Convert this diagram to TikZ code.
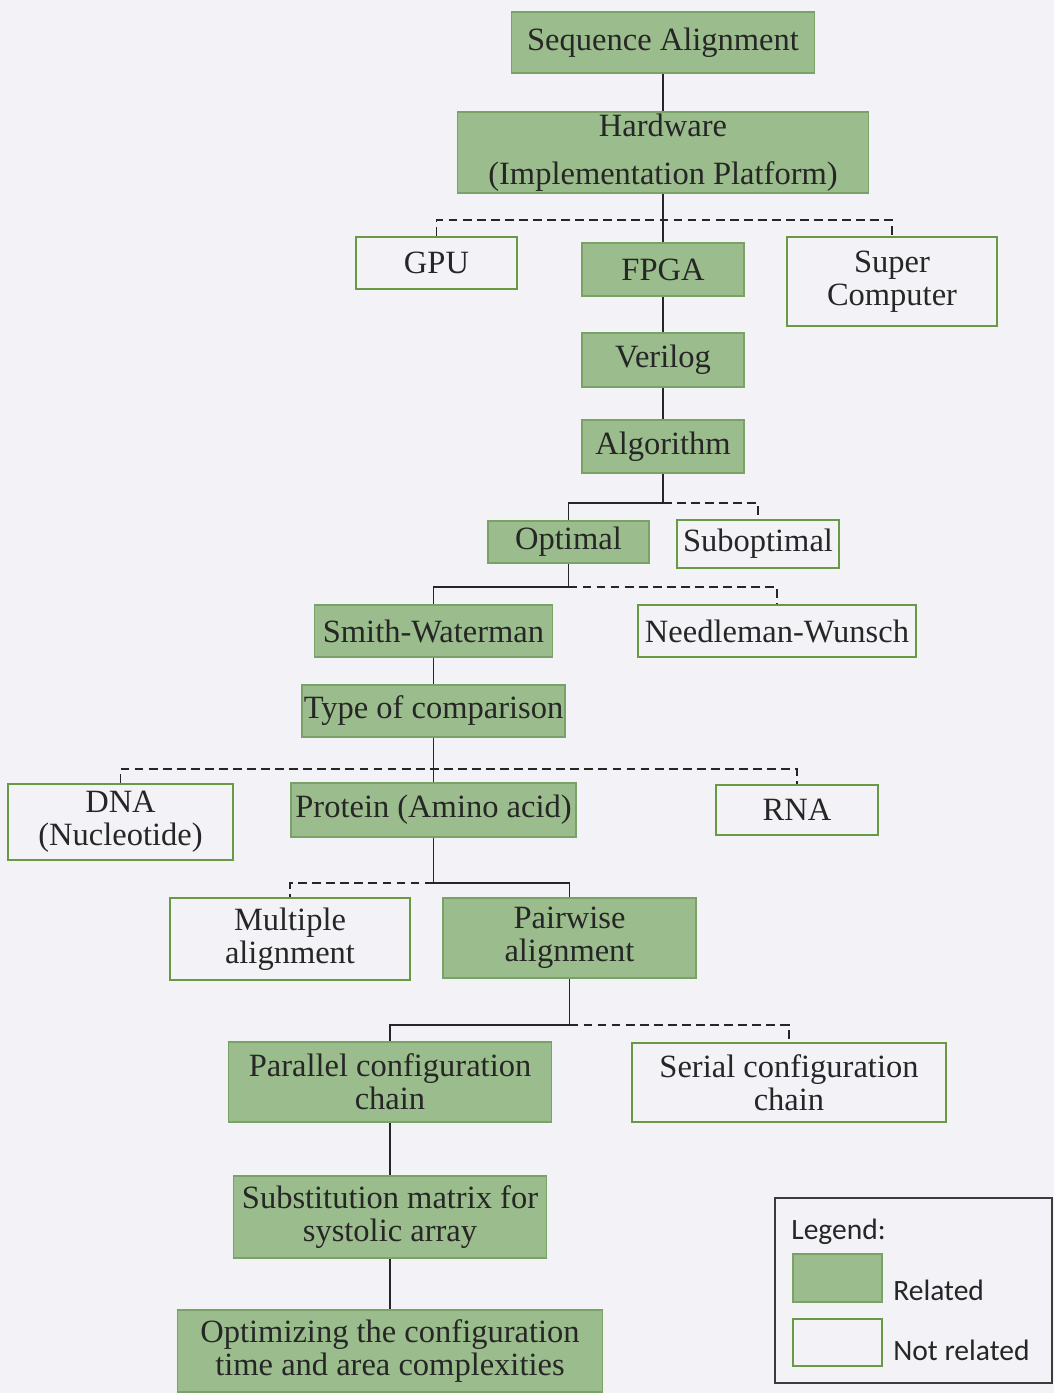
\documentclass[tikz,border=0pt]{standalone}
\usepackage{fontspec}
\setmainfont{Liberation Serif}
\newfontfamily\legendfont{Carlito}
\usetikzlibrary{positioning}
\definecolor{relgreen}{RGB}{155,188,140}
\definecolor{relborder}{RGB}{122,162,102}
\definecolor{unrelborder}{RGB}{104,154,70}
\definecolor{legendgray}{RGB}{60,60,60}
\definecolor{pagebg}{RGB}{243,243,247}

\begin{document}
\begin{tikzpicture}[
    x=0.02cm, y=-0.02cm,
    every node/.style={font=\fontsize{18.5}{19}\selectfont, align=center, inner sep=0pt, text=black!85},
    rel/.style={rectangle, draw=relborder, fill=relgreen, line width=1pt},
    unrel/.style={rectangle, draw=unrelborder, line width=1.2pt},
    link/.style={draw=black!85, line width=1.1pt},
    nolink/.style={draw=black!85, line width=1.1pt, dash pattern=on 5pt off 3pt},
    legtext/.style={anchor=west, font=\legendfont\fontsize{16.8}{18}\selectfont}
]

% Page
\fill[pagebg] (0,0) rectangle (1054,1393);
\useasboundingbox (0,0) rectangle (1054,1393);

% Platform
\node[rel, minimum width=6.06cm, minimum height=1.22cm] (seq) at (663,42.5) {Sequence Alignment};
\node[rel, minimum width=8.22cm, minimum height=1.62cm] (hw) at (663,152.5) {Hardware\\[8pt](Implementation Platform)};
\node[unrel, minimum width=3.22cm, minimum height=1.04cm] (gpu) at (436.5,263) {GPU};
\node[rel, minimum width=3.24cm, minimum height=1.06cm] (fpga) at (663,269.5) {FPGA};
\node[unrel, minimum width=4.2cm, minimum height=1.78cm] (super) at (892,281.5) {Super\\Computer};
\node[rel, minimum width=3.24cm, minimum height=1.08cm] (verilog) at (663,360) {Verilog};
\node[rel, minimum width=3.24cm, minimum height=1.06cm] (algo) at (663,446.5) {Algorithm};

% Algorithm type
\node[rel, minimum width=3.22cm, minimum height=0.84cm] (opt) at (568.5,542) {Optimal};
\node[unrel, minimum width=3.24cm, minimum height=0.96cm] (subopt) at (758,544) {Suboptimal};
\node[rel, minimum width=4.76cm, minimum height=1.04cm] (sw) at (433.5,631) {Smith-Waterman};
\node[unrel, minimum width=5.56cm, minimum height=1.04cm] (nw) at (777,631) {Needleman-Wunsch};

% Comparison
\node[rel, minimum width=5.26cm, minimum height=1.04cm] (cmp) at (433.5,711) {Type of comparison};
\node[unrel, minimum width=4.5cm, minimum height=1.52cm] (dna) at (120.5,822) {DNA\\(Nucleotide)};
\node[rel, minimum width=5.7cm, minimum height=1.08cm] (prot) at (433.5,810) {Protein (Amino acid)};
\node[unrel, minimum width=3.24cm, minimum height=1.0cm] (rna) at (797,810) {RNA};
\node[unrel, minimum width=4.8cm, minimum height=1.64cm] (multi) at (290,939) {Multiple\\alignment};
\node[rel, minimum width=5.06cm, minimum height=1.6cm] (pair) at (569.5,938) {Pairwise\\alignment};

% Configuration
\node[rel, minimum width=6.46cm, minimum height=1.6cm] (par) at (390,1082) {Parallel configuration\\chain};
\node[unrel, minimum width=6.28cm, minimum height=1.58cm] (ser) at (789,1082.5) {Serial configuration\\chain};
\node[rel, minimum width=6.26cm, minimum height=1.64cm] (subst) at (390,1217) {Substitution matrix for\\systolic array};
\node[rel, minimum width=8.5cm, minimum height=1.64cm] (optim) at (390,1351) {Optimizing the configuration\\time and area complexities};

% Junctions
\coordinate (jhw) at (663,220);
\coordinate (jalgo) at (663,503);
\coordinate (jopt) at (568.5,587);
\coordinate (jcmp) at (433.5,769);
\coordinate (jprot) at (433.5,883);
\coordinate (jpair) at (569.5,1025);

% Connectors
\draw[link] (seq) -- (hw);
\draw[nolink] (gpu.north) |- (jhw) -| (super.north);
\draw[link] (hw) -- (fpga);
\draw[link] (fpga) -- (verilog);
\draw[link] (verilog) -- (algo);
\draw[link] (algo) -- (jalgo) -| (opt);
\draw[nolink] (jalgo) -| (subopt);
\draw[link] (opt) -- (jopt) -| (sw);
\draw[nolink] (jopt) -| (nw);
\draw[link] (sw) -- (cmp);
\draw[nolink] (dna.north) |- (jcmp) -| (rna.north);
\draw[link] (cmp) -- (prot);
\draw[link] (prot) -- (jprot) -| (pair);
\draw[nolink] (jprot) -| (multi);
\draw[link] (pair) -- (jpair) -| (par);
\draw[nolink] (jpair) -| (ser);
\draw[link] (par) -- (subst);
\draw[link] (subst) -- (optim);

% Legend
\node[draw=legendgray, line width=1pt, minimum width=5.54cm, minimum height=3.7cm] (legend) at (913.5,1290.5) {};
\node[legtext] (legtitle) at (791,1232) {Legend:};
\node[rel, minimum width=1.78cm, minimum height=0.96cm] (swrel) at (837.5,1278) {};
\node[unrel, minimum width=1.78cm, minimum height=0.94cm] (swunrel) at (837.5,1342.5) {};
\node[legtext] (lrel) at (893,1290) {Related};
\node[legtext] (lunrel) at (893,1350) {Not related};

\end{tikzpicture}
\end{document}
